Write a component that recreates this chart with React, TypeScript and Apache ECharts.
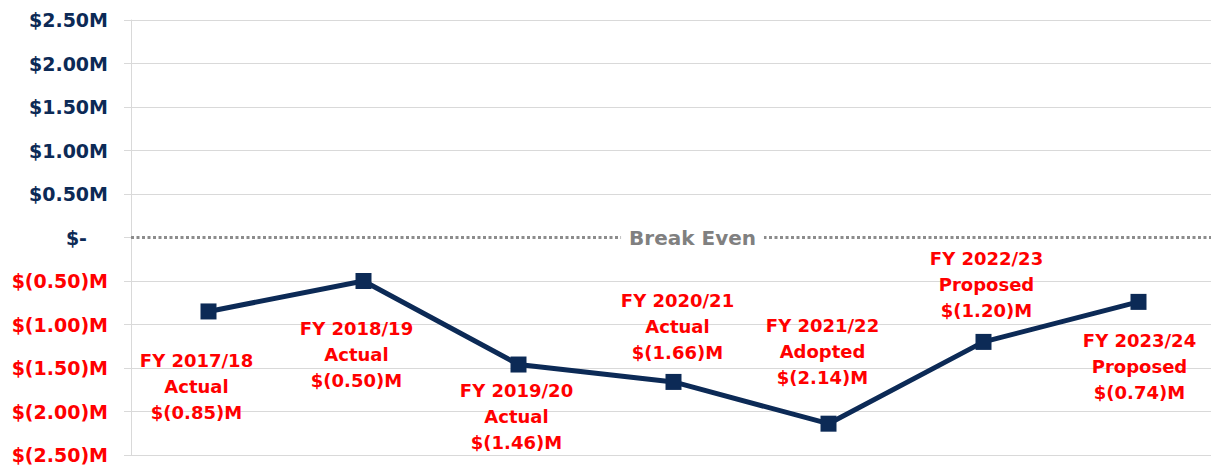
import React, { useEffect, useRef } from "react";
import * as echarts from "echarts";

const fiscalYears = ["FY 2017/18", "FY 2018/19", "FY 2019/20", "FY 2020/21", "FY 2021/22", "FY 2022/23", "FY 2023/24"];
const statuses = ["Actual", "Actual", "Actual", "Actual", "Adopted", "Proposed", "Proposed"];
const netValues = [-0.85, -0.5, -1.46, -1.66, -2.14, -1.2, -0.74];
const yTicks = { min: -2.5, max: 2.5, interval: 0.5 };
const breakEvenLabel = "Break Even";

// label placement (style only): side and pixel offset
const labelLayout: { pos: "top" | "bottom"; off: [number, number] }[] = [
  { pos: "bottom", off: [-12, 28] },
  { pos: "bottom", off: [-7, 26] },
  { pos: "bottom", off: [-2, 5] },
  { pos: "top", off: [4, -8] },
  { pos: "top", off: [-6, -25] },
  { pos: "top", off: [3, -10] },
  { pos: "bottom", off: [1, 18] },
];

const NAVY = "#0c2a56";
const RED = "#ff0000";
const FONT = "'DejaVu Sans', sans-serif";

function fmtMoney(v: number): string {
  if (Math.abs(v) < 1e-9) return "$-";
  if (v > 0) return `$${v.toFixed(2)}M`;
  return `$(${Math.abs(v).toFixed(2)})M`;
}

export default function App() {
  const ref = useRef<HTMLDivElement>(null);
  useEffect(() => {
    if (!ref.current) return;
    const chart = echarts.init(ref.current, null, { renderer: "svg" });
    const splitColors: string[] = [];
    const nLines = Math.round((yTicks.max - yTicks.min) / yTicks.interval) + 1;
    for (let i = 0; i < nLines; i++) {
      const v = yTicks.min + i * yTicks.interval;
      splitColors.push(Math.abs(v) < 1e-9 ? "rgba(0,0,0,0)" : "#d9d9d9");
    }
    chart.setOption({
      animation: false,
      backgroundColor: "#ffffff",
      grid: { left: 131, top: 20, right: 4, bottom: 15, containLabel: false },
      xAxis: {
        type: "category",
        data: fiscalYears,
        boundaryGap: true,
        axisLine: { show: false },
        axisTick: { show: false },
        axisLabel: { show: false },
        splitLine: { show: false },
      },
      yAxis: {
        type: "value",
        min: yTicks.min,
        max: yTicks.max,
        interval: yTicks.interval,
        axisLine: { show: true, lineStyle: { color: "#d9d9d9", width: 1 } },
        axisTick: { show: true, length: 7, lineStyle: { color: "#d9d9d9" } },
        splitLine: { show: true, lineStyle: { color: splitColors, width: 1 } },
        axisLabel: {
          margin: 23,
          fontFamily: FONT,
          fontWeight: "bold",
          fontSize: 19,
          color: (v: any) => (Number(v) < 0 ? RED : NAVY),
          formatter: (v: number) => (Math.abs(v) < 1e-9 ? "{z|$-}" : fmtMoney(v)),
          rich: {
            z: { fontFamily: FONT, fontWeight: "bold", fontSize: 19, color: NAVY, padding: [0, 21, 0, 0] },
          },
        },
      },
      series: [
        {
          type: "line",
          data: netValues.map((v, i) => ({
            value: v,
            label: {
              show: true,
              position: labelLayout[i].pos,
              distance: 0,
              offset: labelLayout[i].off,
              formatter: `${fiscalYears[i]}\n${statuses[i]}\n${fmtMoney(v)}`,
            },
          })),
          symbol: "rect",
          symbolSize: 16,
          itemStyle: { color: NAVY },
          lineStyle: { color: NAVY, width: 5 },
          label: {
            color: RED,
            fontFamily: FONT,
            fontWeight: "bold",
            fontSize: 18,
            lineHeight: 26,
            align: "center",
          },
          markLine: {
            silent: true,
            symbol: "none",
            lineStyle: { color: "#8c8c8c", type: [3, 2.5], width: 3 },
            label: {
              show: true,
              position: "middle",
              formatter: breakEvenLabel,
              color: "#808080",
              fontFamily: FONT,
              fontWeight: "bold",
              fontSize: 20,
              backgroundColor: "#ffffff",
              padding: [2, 8],
              offset: [19, 17],
            },
            data: [{ yAxis: 0 }],
          },
          z: 5,
        },
      ],
    });
    return () => chart.dispose();
  }, []);
  return (
    <div
      ref={ref}
      style={{ position: "fixed", left: 0, top: 0, width: 1220, height: 470, background: "#fff" }}
    />
  );
}
